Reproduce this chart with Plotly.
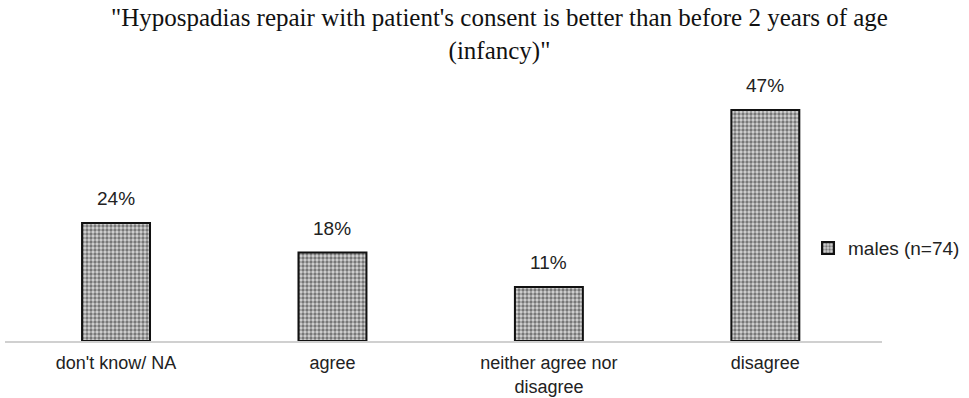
import plotly.graph_objects as go

categories = ["don't know/ NA", "agree", "neither agree nor<br>disagree", "disagree"]
males_pct = [24, 18, 11, 47]
series_name = "males (n=74)"
title_text = "\"Hypospadias repair with patient's consent is better than before 2 years of age<br>(infancy)\""

label_font = dict(family="Liberation Sans, Arial, sans-serif", size=19, color="#222")
tick_font = dict(family="Liberation Sans, Arial, sans-serif", size=18, color="#222")

fig = go.Figure()
fig.add_trace(go.Bar(
    x=categories,
    y=males_pct,
    name=series_name,
    width=0.314,
    marker=dict(
        color="#b0b0b0",
        line=dict(color="#111", width=2),
        pattern=dict(shape=".", fgcolor="#1a1a1a", bgcolor="#d4d4d4", size=4, solidity=0.55),
    ),
    showlegend=True,
))

# percentage labels above each bar
for cat, v in zip(categories, males_pct):
    fig.add_annotation(
        x=cat, y=v, text=f"{v}%", showarrow=False,
        yanchor="bottom", yshift=12, font=label_font,
    )

# two-line title, centred over the chart
fig.add_annotation(
    text=title_text, xref="paper", yref="paper",
    x=0.564, y=1.175, xanchor="center", yanchor="middle",
    showarrow=False,
    font=dict(family="Liberation Serif, Times New Roman, serif", size=25, color="#111"),
)

fig.update_layout(
    width=969, height=398,
    margin=dict(l=5, r=86, t=80, b=57),
    paper_bgcolor="white", plot_bgcolor="white",
    xaxis=dict(
        range=[-0.513, 3.539],
        showline=True, linecolor="#d0d0d0", linewidth=1.5,
        ticks="", showgrid=False, ticklabelstandoff=5,
        tickfont=tick_font, automargin=False,
    ),
    yaxis=dict(range=[0, 53.1], visible=False, showgrid=False, automargin=False),
    legend=dict(
        x=0.9146, y=0.356, xanchor="left", yanchor="middle",
        font=label_font, itemwidth=30, bgcolor="rgba(0,0,0,0)",
    ),
)

fig.write_html("out.html")
